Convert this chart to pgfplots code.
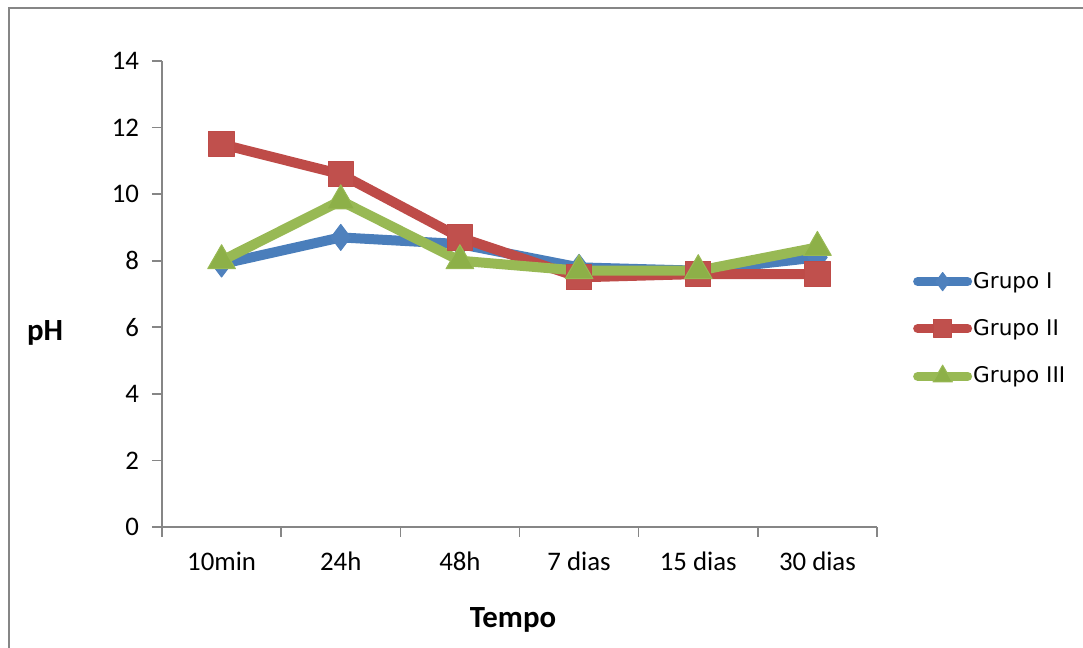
\documentclass[border=0pt]{standalone}
\usepackage{pgfplots}
\pgfplotsset{compat=1.18}
\usepackage{fontspec}
\setmainfont{Carlito}
\newfontfamily\legfont{DejaVu Sans}
\definecolor{gI}{HTML}{4A7EBB}
\definecolor{gII}{HTML}{BE4B48}
\definecolor{gIII}{HTML}{98B954}
\definecolor{mI}{HTML}{4F81BD}
\definecolor{mII}{HTML}{C0504D}
\definecolor{mIII}{HTML}{8DB048}
\definecolor{axgray}{HTML}{868686}
\begin{document}
\begin{tikzpicture}
\useasboundingbox (-81pt,-60.5pt) rectangle (460.5pt,263.5pt);
\draw[axgray, line width=0.8pt] (-76.5pt,-70pt) -- (-76.5pt,259.5pt) -- (470pt,259.5pt);
\begin{axis}[
  at={(0,0)}, anchor=south west,
  scale only axis, width=357.5pt, height=233pt,
  xmin=-0.5, xmax=5.5, ymin=0, ymax=14,
  axis lines*=left,
  axis line style={axgray, line width=0.8pt},
  xtick={0,...,5},
  xticklabels={10min,24h,48h,7 dias,15 dias,30 dias},
  major x tick style={draw=none},
  minor xtick={-0.5,0.5,1.5,2.5,3.5,4.5,5.5},
  minor tick length=5pt,
  ytick={0,2,...,14},
  major tick length=5pt,
  tick align=outside,
  tick style={axgray, line width=0.8pt},
  every tick label/.append style={font=\fontsize{13.4pt}{15pt}\selectfont},
  /pgf/number format/assume math mode=true,
  xticklabel style={yshift=-4pt},
  yticklabel style={xshift=-3pt},
  clip=false,
  legend style={at={(1.050,0.55)}, anchor=north west, draw=none, fill=none,
    font=\legfont\fontsize{10.8pt}{13pt}\selectfont, row sep=13pt,
    inner sep=0pt, cells={anchor=west},
    nodes={inner sep=0.5pt}},
  legend image code/.code={
    \draw[#1, mark=none, line width=4.5pt, line cap=round] (2pt,0pt) -- (27pt,0pt);
    \draw[#1, only marks, line width=0.4pt, /tikz/every mark/.append style={scale=0.7}] plot coordinates {(14.5pt,0pt)};
  },
]
\addplot[gI, line width=5pt, line join=round, mark=diamond*, mark size=6.5pt,
  mark options={fill=mI, draw=mI, line width=0.5pt}]
  coordinates {(0,7.9) (1,8.7) (2,8.5) (3,7.8) (4,7.7) (5,8.1)};
\addlegendentry{Grupo I}
\addplot[gII, line width=5pt, line join=round, mark=square*, mark size=6.3pt,
  mark options={fill=mII, draw=gII, line width=0.5pt}]
  coordinates {(0,11.5) (1,10.6) (2,8.7) (3,7.5) (4,7.6) (5,7.6)};
\addlegendentry{Grupo II}
\addplot[gIII, line width=5pt, line join=round, mark=triangle*, mark size=8pt,
  mark options={fill=mIII, draw=gIII, line width=0.5pt}]
  coordinates {(0,8.0) (1,9.8) (2,8.0) (3,7.7) (4,7.7) (5,8.4)};
\addlegendentry{Grupo III}
\end{axis}
\node[font=\bfseries\fontsize{15.4pt}{17pt}\selectfont] at (-58.5pt,97pt) {pH};
\node[font=\bfseries\fontsize{15.4pt}{17pt}\selectfont] at (175.5pt,-46.5pt) {Tempo};
\end{tikzpicture}
\end{document}
